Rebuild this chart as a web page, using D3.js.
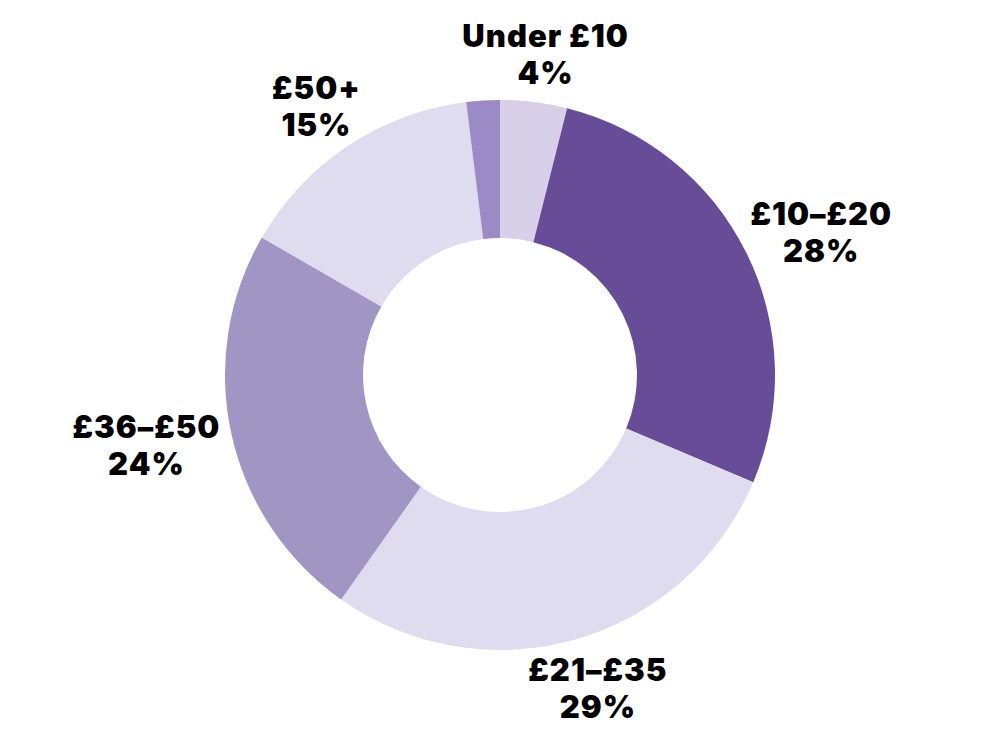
<!DOCTYPE html>
<html>
<head>
<meta charset="utf-8">
<script src="https://cdn.jsdelivr.net/npm/d3@7"></script>
<style>
  body { margin: 0; background: #fff; }
  text { font-family: Inter, "Open Sans", sans-serif; font-weight: 900; fill: #000; letter-spacing: 1px; }
</style>
</head>
<body>
<svg id="chart"></svg>
<script>
// slices clockwise from 12 o'clock
const categories = ["Under £10", "£10–£20", "£21–£35", "£36–£50", "£50+", ""];
const values = [4, 28, 29, 24, 15, 2];
const shown = ["4%", "28%", "29%", "24%", "15%", ""];
const colours = ["#d8cfe8", "#674c98", "#e0dcef", "#a195c3", "#e0dcef", "#9b8ac6"];

let width = 1000,
    height = 750,
    cx = 500,
    cy = 375,
    outerR = 275,
    innerR = 137,
    labelR = 288; // anchor radius for the label boxes

const data = categories.map((c, i) => ({ cat: c, value: values[i], pct: shown[i], colour: colours[i] }));

let svg = d3.select("#chart").attr("width", width).attr("height", height);
let g = svg.append("g").attr("transform", `translate(${cx},${cy})`);

let pie = d3.pie().sort(null).value(d => d.value);
let arc = d3.arc().innerRadius(innerR).outerRadius(outerR);
let arcs = pie(data);

g.selectAll("path")
    .data(arcs)
    .enter().append("path")
    .attr("d", arc)
    .attr("fill", d => d.data.colour);

let lab = g.selectAll("g.lab")
    .data(arcs.filter(d => d.data.cat !== ""))
    .enter().append("g")
    .attr("class", "lab");

lab.append("text")
    .attr("text-anchor", "middle")
    .attr("font-size", 31)
    .attr("y", -6)
    .text(d => d.data.cat);
lab.append("text")
    .attr("text-anchor", "middle")
    .attr("font-size", 31)
    .attr("y", 31)
    .text(d => d.data.pct);

// push each label block outward so its near edge sits on labelR
lab.attr("transform", function (d) {
    let a = (d.startAngle + d.endAngle) / 2;
    let w = 0;
    d3.select(this).selectAll("text").each(function () {
        w = Math.max(w, this.getComputedTextLength());
    });
    let hw = w / 2, hh = 36;
    let sx = Math.sin(a), cy_ = -Math.cos(a);
    let x = labelR * sx + hw * sx;
    let y = labelR * cy_ + hh * cy_;
    return `translate(${x},${y})`;
});
</script>
</body>
</html>
